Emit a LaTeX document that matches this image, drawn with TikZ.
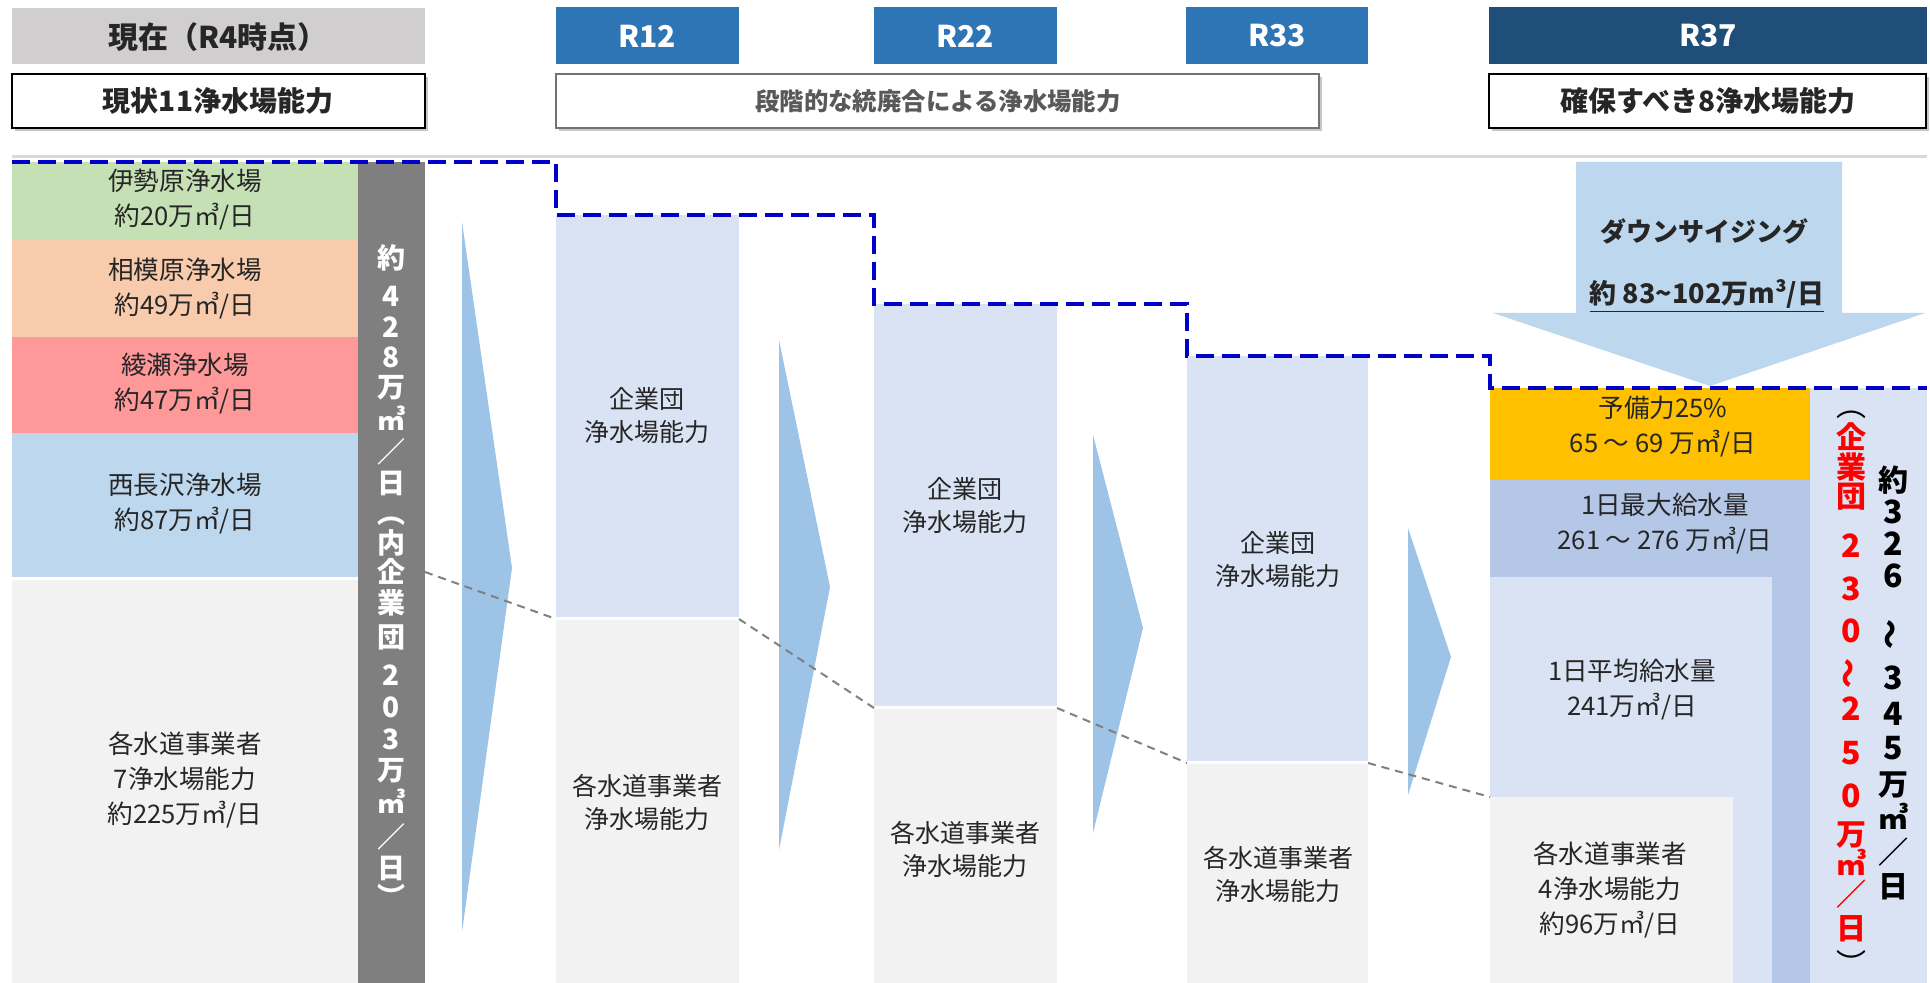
\documentclass[tikz,border=0pt]{standalone}
\usepackage{fontspec}
\setmainfont{Noto Sans CJK JP}
\definecolor{hdrgray}{HTML}{D0CECE}
\definecolor{hdrblue}{HTML}{2E75B6}
\definecolor{hdrnavy}{HTML}{1F4E79}
\definecolor{cgreen}{HTML}{C5E0B4}
\definecolor{corange}{HTML}{F8CBAD}
\definecolor{cred}{HTML}{FF9999}
\definecolor{cblue}{HTML}{BDD7EE}
\definecolor{cgray}{HTML}{F2F2F2}
\definecolor{barGray}{HTML}{7F7F7F}
\definecolor{colblue}{HTML}{DAE3F3}
\definecolor{arrblue}{HTML}{9DC3E6}
\definecolor{dashblue}{HTML}{0000C8}
\definecolor{gold}{HTML}{FFC000}
\definecolor{midblue}{HTML}{B4C7E7}
\definecolor{txt}{HTML}{262626}
\definecolor{lineGray}{HTML}{D9D9D9}
\definecolor{midtxt}{HTML}{595959}
\newcommand\bigdig[1]{{\fontsize{16}{16}\selectfont #1}}
\newcommand\vtilde{\rotatebox[origin=c]{90}{～}}
\begin{document}
\begin{tikzpicture}[x=0.5pt,y=-0.5pt,
  lbl/.style={font=\fontsize{12.8}{17.5}\selectfont, align=center, text=txt, inner sep=0pt},
  mlbl/.style={font=\fontsize{12.5}{16.5}\selectfont, align=center, text=txt, inner sep=0pt},
  hdrtxt/.style={font=\fontsize{14}{16}\selectfont\bfseries, text=txt, inner sep=0pt},
  yeartxt/.style={font=\fontsize{15}{16}\selectfont\bfseries, text=white, inner sep=0pt},
  vchar/.style={inner sep=0pt, text height=0.8em, text depth=0.1em, anchor=center},
  vwhite/.style={vchar, font=\fontsize{14}{14}\selectfont\bfseries, text=white},
  vred/.style={vchar, font=\fontsize{15}{15}\selectfont\bfseries, text=red},
  vblack/.style={vchar, font=\fontsize{15}{15}\selectfont\bfseries, text=black},
  stepline/.style={draw=dashblue, line width=2pt, dash pattern=on 9pt off 4pt},
  gdash/.style={draw=gray, line width=1pt, dash pattern=on 4pt off 3pt},
  chev/.style={fill=arrblue, draw=none},
  shadowbox/.style={fill=black!22, draw=none},
]
\useasboundingbox (0,0) rectangle (1930,983);
\fill[white] (0,0) rectangle (1930,983);

% ---------- header ----------
\fill[hdrgray] (12,8) rectangle (425,64);
\node[hdrtxt, font=\fontsize{15}{16}\selectfont\bfseries] (hnow) at (218,37) {現在（R4時点）};
\fill[shadowbox] (15,77) rectangle (428,131);
\draw[fill=white, draw=black, line width=1.3pt] (12,74) rectangle (425,128);
\node[hdrtxt] (hnow2) at (218,101) {現状11浄水場能力};

\fill[hdrblue] (556,7) rectangle (739,64);
\node[yeartxt] (y12) at (647,36) {R12};
\fill[hdrblue] (874,7) rectangle (1057,64);
\node[yeartxt] (y22) at (965,36) {R22};
\fill[hdrblue] (1186,7) rectangle (1368,64);
\node[yeartxt] (y33) at (1277,36) {R33};
\fill[hdrnavy] (1489,7) rectangle (1927,64);
\node[yeartxt] (y37) at (1708,36) {R37};

\fill[shadowbox] (559,77) rectangle (1322,131);
\draw[fill=white, draw=black!55, line width=1pt] (556,74) rectangle (1319,128);
\node[hdrtxt, font=\fontsize{12.2}{14}\selectfont\bfseries, text=midtxt] (hmid) at (938,101) {段階的な統廃合による浄水場能力};

\fill[shadowbox] (1492,77) rectangle (1929,131);
\draw[fill=white, draw=black, line width=1.3pt] (1489,74) rectangle (1926,128);
\node[hdrtxt] (hright) at (1708,101) {確保すべき8浄水場能力};

% ---------- left column (R4) ----------
\fill[cgreen] (12,162) rectangle (358,240);
\fill[corange] (12,240) rectangle (358,337);
\fill[cred] (12,337) rectangle (358,433);
\fill[cblue] (12,433) rectangle (358,577);
\fill[cgray] (12,580) rectangle (358,983);
\fill[barGray] (358,162) rectangle (425,983);

\node[lbl] (isehara) at (185,200) {伊勢原浄水場\\約20万㎥/日};
\node[lbl] (sagami) at (185,289) {相模原浄水場\\約49万㎥/日};
\node[lbl] (ayase) at (185,384) {綾瀬浄水場\\約47万㎥/日};
\node[lbl] (nishi) at (185,504) {西長沢浄水場\\約87万㎥/日};
\node[lbl] (kaku7) at (185,780) {各水道事業者\\7浄水場能力\\約225万㎥/日};

\foreach \c/\y [count=\i] in {約/262, 4/300, 2/331, 8/361, 万/391, ㎥/423, ／/455, 日/486, ︵/516, 内/546, 企/575, 業/606, 団/640, 2/678, 0/710, 3/742, 万/773, ㎥/806, ／/840, 日/871, ︶/900}
  \node[vwhite] (gv\i) at (391,\y) {\c};

% ---------- middle columns ----------
\fill[colblue] (556,215) rectangle (739,617);
\fill[cgray] (556,620) rectangle (739,983);
\fill[colblue] (874,304) rectangle (1057,706);
\fill[cgray] (874,709) rectangle (1057,983);
\fill[colblue] (1187,356) rectangle (1368,761);
\fill[cgray] (1187,764) rectangle (1368,983);

\node[mlbl] (k12) at (647,416) {企業団\\浄水場能力};
\node[mlbl] (s12) at (647,802) {各水道事業者\\浄水場能力};
\node[mlbl] (k22) at (965,506) {企業団\\浄水場能力};
\node[mlbl] (s22) at (965,849) {各水道事業者\\浄水場能力};
\node[mlbl] (k33) at (1278,560) {企業団\\浄水場能力};
\node[mlbl] (s33) at (1278,874) {各水道事業者\\浄水場能力};

% ---------- R37 column ----------
\fill[gold] (1490,388) rectangle (1810,480);
\fill[midblue] (1490,480) rectangle (1810,983);
\fill[colblue] (1490,577) rectangle (1772,983);
\fill[cgray] (1490,797) rectangle (1733,983);
\fill[colblue] (1810,388) rectangle (1927,983);

\node[lbl] (yobi) at (1663,427) {予備力25\%\\65 ～ 69 万㎥/日};
\node[lbl] (maxq) at (1665,524) {1日最大給水量\\261 ～ 276 万㎥/日};
\node[lbl] (avgq) at (1632,690) {1日平均給水量\\241万㎥/日};
\node[lbl] (kaku4) at (1610,890) {各水道事業者\\4浄水場能力\\約96万㎥/日};

\node[vblack, font=\fontsize{15}{15}\selectfont] (rvo) at (1851,410) {︵};
\foreach \c/\y [count=\i] in {企/442, 業/471, 団/500, \bigdig{2}/550, \bigdig{3}/593, \bigdig{0}/635, \vtilde/675, \bigdig{2}/713, \bigdig{5}/757, \bigdig{0}/800, 万/838, ㎥/868, ／/898, 日/932}
  \node[vred] (rv\i) at (1851,\y) {\c};
\node[vblack, font=\fontsize{15}{15}\selectfont] (rvc) at (1851,968) {︶};

\foreach \c/\y [count=\i] in {約/484, \bigdig{3}/516, \bigdig{2}/548, \bigdig{6}/580, \vtilde/636, \bigdig{3}/682, \bigdig{4}/718, \bigdig{5}/752, 万/788, ㎥/822, ／/856, 日/890}
  \node[vblack] (bv\i) at (1893,\y) {\c};

% ---------- chevrons ----------
\fill[chev] (462,222) -- (512,568) -- (462,932) -- cycle;
\fill[chev] (779,340) -- (830,587) -- (779,850) -- cycle;
\fill[chev] (1093,435) -- (1143,628) -- (1093,833) -- cycle;
\fill[chev] (1408,528) -- (1451,657) -- (1408,795) -- cycle;

% ---------- downsizing arrow ----------
\fill[cblue] (1576,162) -- (1842,162) -- (1842,313) -- (1925,313) -- (1710,386) -- (1493,313) -- (1576,313) -- cycle;
\node[lbl, font=\fontsize{13}{16}\selectfont\bfseries] (down) at (1704,231) {ダウンサイジング};
\node[lbl, font=\fontsize{13.5}{16}\selectfont\bfseries] (downv) at (1707,296) {\underline{約 83\textasciitilde102万m³/日}};

% ---------- lines ----------
\draw[lineGray, line width=1.5pt] (12,157) -- (1927,157);

\coordinate (d0) at (425,572);
\coordinate (d1) at (556,619);
\coordinate (d2) at (739,619);
\coordinate (d3) at (874,708);
\coordinate (d4) at (1057,708);
\coordinate (d5) at (1187,763);
\coordinate (d6) at (1368,763);
\coordinate (d7) at (1490,797);
\draw[gdash] (d0) -- (d1);
\draw[gdash] (d2) -- (d3);
\draw[gdash] (d4) -- (d5);
\draw[gdash] (d6) -- (d7);

\coordinate (s0) at (12,162);
\coordinate (s1) at (556,162);
\coordinate (s2) at (556,215);
\coordinate (s3) at (874,215);
\coordinate (s4) at (874,304);
\coordinate (s5) at (1187,304);
\coordinate (s6) at (1187,356);
\coordinate (s7) at (1490,356);
\coordinate (s8) at (1490,388);
\coordinate (s9) at (1927,388);
\draw[stepline] (s0) -- (s1) -- (s2) -- (s3) -- (s4) -- (s5) -- (s6) -- (s7) -- (s8) -- (s9);
\end{tikzpicture}
\end{document}
